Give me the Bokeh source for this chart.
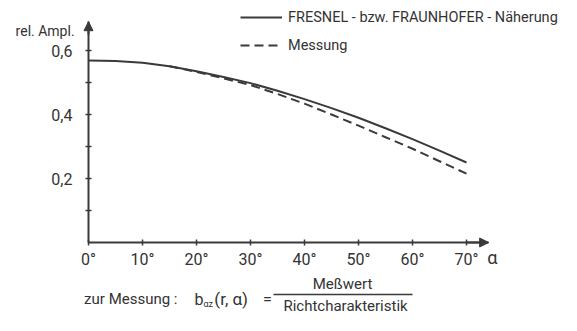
from bokeh.plotting import figure
from bokeh.models import FixedTicker, Label, Arrow, NormalHead, Legend, LegendItem, Range1d
from bokeh.embed import file_html
from bokeh.resources import INLINE

# ---- data ----
angles = [0, 5, 10, 15, 20, 25, 30, 35, 40, 45, 50, 55, 60, 65, 70]
fresnel = [0.569, 0.567, 0.562, 0.551, 0.535, 0.517, 0.498, 0.474, 0.448, 0.420, 0.390, 0.357, 0.323, 0.287, 0.250]
mess_angles = [15, 20, 25, 30, 35, 40, 45, 50, 55, 60, 65, 70]
messung = [0.551, 0.533, 0.513, 0.492, 0.464, 0.434, 0.400, 0.365, 0.329, 0.293, 0.254, 0.215]

x_ticks = [0, 10, 20, 30, 40, 50, 60, 70]
x_tick_labels = ["0°", "10°", "20°", "30°", "40°", "50°", "60°", "70°"]
y_ticks = [0.1, 0.2, 0.3, 0.4, 0.5, 0.6]
y_tick_labels = ["", "0,2", "", "0,4", "", "0,6"]

legend_labels = ["FRESNEL - bzw. FRAUNHOFER - Näherung", "Messung"]
y_title = "rel. Ampl."
x_title = "α"

FONT = "Roboto"
LC = "#3a3a3a"
TC = "#333333"

W, H = 561, 315
PX_PER_DEG = 5.4
PX_PER_UNIT = 320.0
X0, Y0 = 88, 242   # pixel position of the origin

p = figure(width=W, height=H,
           x_range=Range1d(-X0 / PX_PER_DEG, (W - X0) / PX_PER_DEG),
           y_range=Range1d((Y0 - H) / PX_PER_UNIT, Y0 / PX_PER_UNIT),
           output_backend="svg", toolbar_location=None,
           min_border_left=0, min_border_right=0, min_border_top=0, min_border_bottom=0)
p.outline_line_color = None
p.grid.visible = False

r1 = p.line(angles, fresnel, line_width=2, line_color=LC)
r2 = p.line(mess_angles, messung, line_width=2, line_color=LC, line_dash="9 5")

for ax in (p.xaxis[0], p.yaxis[0]):
    ax.fixed_location = 0
    ax.axis_line_width = 2
    ax.axis_line_color = LC
    ax.major_tick_in = 3
    ax.major_tick_out = 3
    ax.major_tick_line_width = 1.5
    ax.major_tick_line_color = LC
    ax.minor_tick_line_color = None
    ax.major_label_text_font = FONT
    ax.major_label_text_font_size = "16px"
    ax.major_label_text_color = TC

xa = p.xaxis[0]
xa.ticker = FixedTicker(ticks=x_ticks)
xa.major_label_overrides = {t: l for t, l in zip(x_ticks, x_tick_labels)}
xa.bounds = (0, 74.1)
xa.major_label_standoff = 4

ya = p.yaxis[0]
ya.ticker = FixedTicker(ticks=y_ticks)
ya.major_label_overrides = {t: l for t, l in zip(y_ticks, y_tick_labels)}
ya.bounds = (0, 0.69)
ya.major_label_standoff = 13

# axis arrow heads
p.add_layout(Arrow(end=NormalHead(size=9, fill_color=LC, line_color=LC, line_width=1),
                   x_start=70, y_start=0, x_end=74.1, y_end=0, line_width=2, line_color=LC))
p.add_layout(Arrow(end=NormalHead(size=9, fill_color=LC, line_color=LC, line_width=1),
                   x_start=0, y_start=0.65, x_end=0, y_end=0.69, line_width=2, line_color=LC))

legend = Legend(items=[LegendItem(label=legend_labels[0], renderers=[r1]),
                       LegendItem(label=legend_labels[1], renderers=[r2])],
                location=(240, 260), glyph_width=42, glyph_height=20, label_height=20,
                label_standoff=6, spacing=8, padding=0, margin=0,
                border_line_color=None, background_fill_alpha=0,
                label_text_font=FONT, label_text_font_size="14.5px", label_text_color=TC)
p.add_layout(legend)

def lab(text, x, y, size="15px", align="left", baseline="middle"):
    p.add_layout(Label(text=text, x=x, y=y, text_font=FONT, text_font_size=size,
                       text_color=TC, text_align=align, text_baseline=baseline))

lab(y_title, -13.5, 0.6625, size="14px")
lab(x_title, 74.8, -0.047, size="18px", align="center")

# formula below the chart
lab("zur Messung :", 16.48, -0.178, align="right")
lab("b", 19.63, -0.178, size="16px")
lab("αz", 21.3, -0.192, size="9px")
lab("(r, α)", 23.3, -0.178, size="17px")
lab("=", 33.15, -0.178, size="16px", align="center")
lab("Meßwert", 47.04, -0.131, align="center")
lab("Richtcharakteristik", 47.6, -0.197, align="center")
p.add_layout(Arrow(start=None, end=None, x_start=34.26, y_start=-0.1625, x_end=60.0, y_end=-0.1625,
                   line_width=1.5, line_color=LC))

open("out.html", "w").write(file_html(p, INLINE))
